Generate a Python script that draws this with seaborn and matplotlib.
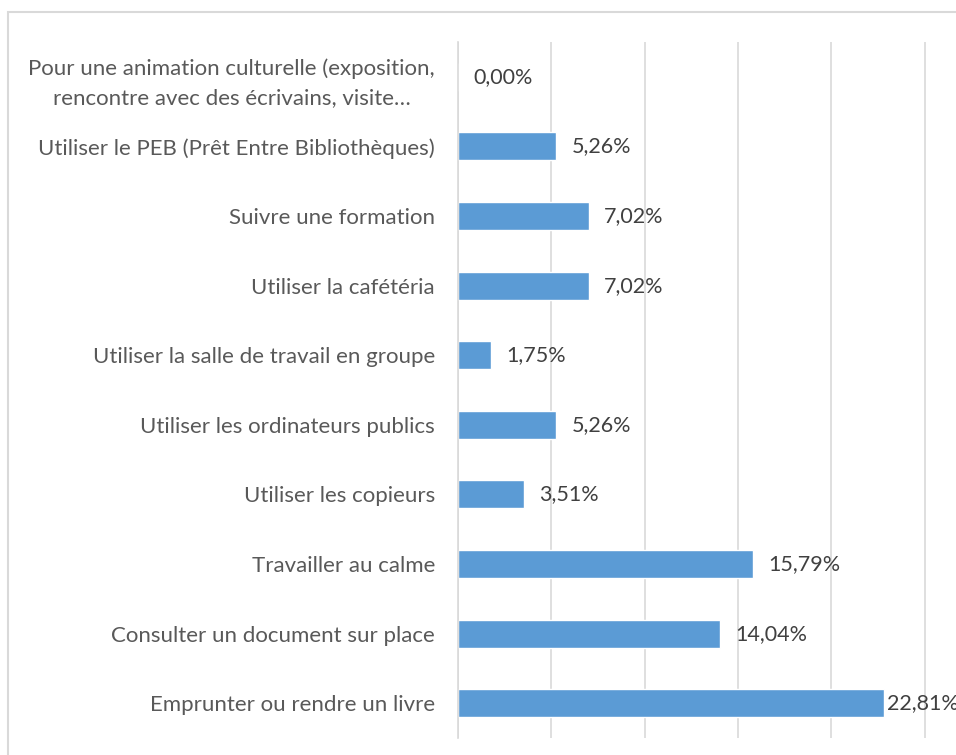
import matplotlib
matplotlib.use("Agg")
import matplotlib.pyplot as plt
import matplotlib.patches as mpatches
import seaborn as sns
import pandas as pd
import numpy as np

categories = [
    "Pour une animation culturelle (exposition,\nrencontre avec des écrivains, visite…",
    "Utiliser le PEB (Prêt Entre Bibliothèques)",
    "Suivre une formation",
    "Utiliser la cafétéria",
    "Utiliser la salle de travail en groupe",
    "Utiliser les ordinateurs publics",
    "Utiliser les copieurs",
    "Travailler au calme",
    "Consulter un document sur place",
    "Emprunter ou rendre un livre",
]
values = [0.00, 5.26, 7.02, 7.02, 1.75, 5.26, 3.51, 15.79, 14.04, 22.81]

df = pd.DataFrame({"motif": categories, "pct": values})

sns.set_style("white")
plt.rcParams["font.family"] = ["Lato", "DejaVu Sans"]

fig = plt.figure(figsize=(9.56, 7.55), dpi=100)
# outer chart frame (cropped like the original screenshot)
fig.patches.append(mpatches.Rectangle((8 / 956, -0.1), 1.2, (755 - 12) / 755 + 0.1,
                                      transform=fig.transFigure, fill=False,
                                      edgecolor="#d9d9d9", linewidth=1.5))

ax = fig.add_axes([458 / 956, 17 / 755, 504 / 956, 696 / 755])
sns.barplot(data=df, y="motif", x="pct", color="#5b9bd5", width=0.4,
            saturation=1, ax=ax, order=categories)

ax.set_xlim(0, 27)
ax.set_ylim(len(categories) - 0.5, -0.5)
ax.set_xticks([0, 5, 10, 15, 20, 25])
ax.grid(axis="x", color="#d9d9d9", linewidth=1.2)
ax.set_axisbelow(True)
ax.tick_params(axis="x", length=0, labelbottom=False)

# category ticks at row boundaries, labels at centres
ax.set_yticks(range(len(categories)))
ax.set_yticklabels(categories, multialignment="center", linespacing=1.55)
ax.set_yticks(np.arange(-0.5, len(categories), 1.0), minor=True)
ax.tick_params(axis="y", which="major", length=0, pad=16.5, labelsize=16,
               labelcolor="#595959")
ax.tick_params(axis="y", which="minor", length=5, color="#d9d9d9", width=1.2)

for s in ["top", "right", "bottom"]:
    ax.spines[s].set_visible(False)
ax.spines["left"].set_color("#d9d9d9")
ax.spines["left"].set_linewidth(1.2)
ax.set_xlabel("")
ax.set_ylabel("")

# value labels; the largest one runs past the right edge, as in the source
for i, v in enumerate(values):
    pad = 2 if v > 20 else 11
    ax.annotate(f"{v:.2f}%".replace(".", ","), xy=(v, i), xytext=(pad, 0),
                textcoords="offset points", va="center", ha="left",
                fontsize=15.5, color="#404040", annotation_clip=False)

fig.savefig("out.png", dpi=100)
